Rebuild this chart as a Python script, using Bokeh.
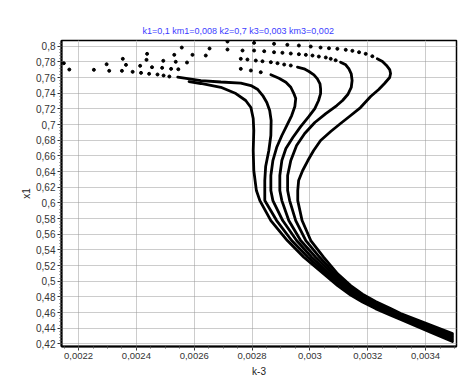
from bokeh.plotting import figure
from bokeh.models import FixedTicker, Range1d
from bokeh.embed import file_html
from bokeh.resources import INLINE
import numpy as np

title_text = "k1=0,1 km1=0,008 k2=0,7 k3=0,003 km3=0,002"

x_ticks = [0.0022, 0.0024, 0.0026, 0.0028, 0.003, 0.0032, 0.0034]
x_labels = ["0,0022", "0,0024", "0,0026", "0,0028", "0,003", "0,0032", "0,0034"]
y_ticks = [0.42, 0.44, 0.46, 0.48, 0.5, 0.52, 0.54, 0.56, 0.58, 0.6,
           0.62, 0.64, 0.66, 0.68, 0.7, 0.72, 0.74, 0.76, 0.78, 0.8]
y_labels = ["0,42", "0,44", "0,46", "0,48", "0,5", "0,52", "0,54", "0,56", "0,58", "0,6",
            "0,62", "0,64", "0,66", "0,68", "0,7", "0,72", "0,74", "0,76", "0,78", "0,8"]

# --- dense parts of the six curves (k-3, x1) ---
k3_c1 = [0.002582, 0.002623, 0.002692, 0.002744, 0.002778, 0.002796, 0.002804, 0.002806, 0.002804,
         0.002806, 0.002815, 0.002827, 0.002865, 0.002922, 0.002979, 0.003048, 0.003096, 0.003141,
         0.003182, 0.003227, 0.003279, 0.003314, 0.003417, 0.003493]
x1_c1 = [0.7549, 0.7524, 0.7476, 0.7396, 0.7307, 0.7217, 0.7077, 0.6923, 0.6668,
         0.6413, 0.6157, 0.6029, 0.5774, 0.5519, 0.5305, 0.5093, 0.4944, 0.4823,
         0.4733, 0.4650, 0.4567, 0.4510, 0.4350, 0.4229]

k3_c2 = [0.002543, 0.002623, 0.002692, 0.002761, 0.002796, 0.002820, 0.002837, 0.002851, 0.002861,
         0.002866, 0.002865, 0.002858, 0.002847, 0.002844, 0.002844, 0.002885, 0.002937, 0.002993,
         0.003058, 0.003141, 0.003182, 0.003227, 0.003279, 0.003314, 0.003417, 0.003493]
x1_c2 = [0.7604, 0.7562, 0.7543, 0.7530, 0.7498, 0.7447, 0.7370, 0.7281, 0.7179,
         0.7051, 0.6860, 0.6668, 0.6464, 0.6285, 0.6029, 0.5774, 0.5519, 0.5305,
         0.5093, 0.4847, 0.4754, 0.4668, 0.4584, 0.4525, 0.4369, 0.4249]

k3_c3 = [0.002865, 0.002893, 0.002917, 0.002934, 0.002945, 0.002951, 0.002948, 0.002937, 0.002920,
         0.002903, 0.002885, 0.002872, 0.002865, 0.002865, 0.002872, 0.002906, 0.002954, 0.003006,
         0.003068, 0.003141, 0.003182, 0.003227, 0.003279, 0.003314, 0.003417, 0.003493]
x1_c3 = [0.7635, 0.7591, 0.7540, 0.7476, 0.7392, 0.7332, 0.7230, 0.7115, 0.6987,
         0.6860, 0.6706, 0.6540, 0.6349, 0.6157, 0.6029, 0.5774, 0.5519, 0.5305,
         0.5093, 0.4871, 0.4774, 0.4686, 0.4600, 0.4540, 0.4386, 0.4270]

k3_c4 = [0.002957, 0.002980, 0.002997, 0.003014, 0.003026, 0.003035, 0.003037, 0.003037, 0.003030,
         0.003017, 0.002996, 0.002968, 0.002941, 0.002917, 0.002903, 0.002896, 0.002896, 0.002903,
         0.002927, 0.002968, 0.003020, 0.003079, 0.003141, 0.003182, 0.003227, 0.003279, 0.003314,
         0.003417, 0.003493]
x1_c4 = [0.7732, 0.7711, 0.7677, 0.7635, 0.7584, 0.7520, 0.7456, 0.7396, 0.7307,
         0.7204, 0.7102, 0.6974, 0.6834, 0.6694, 0.6540, 0.6349, 0.6157, 0.6029,
         0.5774, 0.5519, 0.5305, 0.5093, 0.4895, 0.4794, 0.4704, 0.4617, 0.4556,
         0.4404, 0.4290]

k3_c5 = [0.003106, 0.003124, 0.003135, 0.003143, 0.003146, 0.003143, 0.003131, 0.003113, 0.003093,
         0.003055, 0.003017, 0.002982, 0.002954, 0.002934, 0.002923, 0.002923, 0.002930, 0.002951,
         0.002986, 0.003034, 0.003087, 0.003141, 0.003182, 0.003227, 0.003279, 0.003314, 0.003417,
         0.003493]
x1_c5 = [0.7796, 0.7762, 0.7711, 0.7648, 0.7562, 0.7473, 0.7383, 0.7307, 0.7243,
         0.7140, 0.7026, 0.6885, 0.6732, 0.6540, 0.6349, 0.6157, 0.6029, 0.5774,
         0.5519, 0.5305, 0.5093, 0.4920, 0.4815, 0.4722, 0.4634, 0.4571, 0.4422,
         0.4311]

k3_c6 = [0.003233, 0.003251, 0.003265, 0.003276, 0.003279, 0.003276, 0.003258, 0.003238, 0.003210,
         0.003175, 0.003141, 0.003106, 0.003072, 0.003037, 0.003013, 0.002993, 0.002975, 0.002961,
         0.002958, 0.002958, 0.002973, 0.003003, 0.003048, 0.003096, 0.003141, 0.003182, 0.003227,
         0.003279, 0.003314, 0.003417, 0.003493]
x1_c6 = [0.7839, 0.7805, 0.7754, 0.7702, 0.7651, 0.7600, 0.7524, 0.7447, 0.7358,
         0.7217, 0.7115, 0.7013, 0.6911, 0.6796, 0.6668, 0.6540, 0.6413, 0.6285,
         0.6157, 0.6029, 0.5774, 0.5519, 0.5305, 0.5093, 0.4944, 0.4835, 0.4740,
         0.4650, 0.4586, 0.4439, 0.4331]

# --- sparse computed points on the upper branches ---
k3_d2 = [0.002387, 0.002416, 0.002444, 0.002473, 0.002494, 0.002514]
x1_d2 = [0.7673, 0.7660, 0.7648, 0.7639, 0.7626, 0.7613]
k3_d3 = [0.002168, 0.002253, 0.002306, 0.002350, 0.002454, 0.002489, 0.002520, 0.002545,
         0.002761, 0.002796, 0.002830]
x1_d3 = [0.7702, 0.7699, 0.7686, 0.7686, 0.7732, 0.7724, 0.7711, 0.7706,
         0.7711, 0.7690, 0.7668]
k3_d4 = [0.002149, 0.002297, 0.002364, 0.002413, 0.002435, 0.002493, 0.002536, 0.002575,
         0.002761, 0.002784, 0.002813, 0.002836, 0.002865, 0.002888, 0.002911, 0.002934]
x1_d4 = [0.7783, 0.7770, 0.7762, 0.7750, 0.7826, 0.7814, 0.7801, 0.7792,
         0.7839, 0.7830, 0.7817, 0.7808, 0.7796, 0.7783, 0.7766, 0.7754]
k3_d5 = [0.002353, 0.002437, 0.002531, 0.002594, 0.002640, 0.002715, 0.002767,
         0.002807, 0.002842, 0.002876, 0.002905, 0.002934, 0.002962, 0.002986, 0.003009,
         0.003031, 0.003055, 0.003072, 0.003089]
x1_d5 = [0.7839, 0.7903, 0.7890, 0.7890, 0.7881, 0.7958, 0.7945,
         0.7945, 0.7936, 0.7923, 0.7916, 0.7907, 0.7898, 0.7890, 0.7881,
         0.7868, 0.7856, 0.7839, 0.7821]
k3_d6 = [0.002557, 0.002653, 0.002715, 0.002807, 0.002876, 0.002922, 0.002962, 0.003003,
         0.003037, 0.003066, 0.003095, 0.003124, 0.003147, 0.003170, 0.003193, 0.003216]
x1_d6 = [0.7983, 0.7971, 0.8060, 0.8043, 0.8031, 0.8018, 0.8009, 0.7996,
         0.7983, 0.7974, 0.7967, 0.7954, 0.7941, 0.7923, 0.7903, 0.7872]

FONT = "Liberation Sans"

p = figure(width=460, height=383, output_backend="svg", toolbar_location=None,
           x_range=Range1d(0.002141, 0.003507), y_range=Range1d(0.4166, 0.8073),
           min_border_left=61, min_border_right=4, min_border_top=40, min_border_bottom=37)

p.title.text = title_text
p.title.text_color = "#3c3cff"
p.title.text_font = FONT
p.title.text_font_size = "9px"
p.title.text_font_style = "normal"
p.title.align = "left"
p.title.offset = 81
p.title.standoff = 9

paths = [(k3_c1, x1_c1), (k3_c2, x1_c2), (k3_c3, x1_c3), (k3_c4, x1_c4), (k3_c5, x1_c5), (k3_c6, x1_c6)]
for kk, xx in paths:
    p.line(kk, xx, line_color="black", line_width=2.8, line_join="round", line_cap="round")

dots = [(k3_d2, x1_d2), (k3_d3, x1_d3), (k3_d4, x1_d4), (k3_d5, x1_d5), (k3_d6, x1_d6)]
for kk, xx in dots:
    p.scatter(kk, xx, marker="circle", size=3, color="black")

x_minor = list(np.round(np.arange(0.0021, 0.00355, 0.00005), 6))
y_minor = list(np.round(np.arange(0.416, 0.81, 0.004), 4))
p.xaxis.ticker = FixedTicker(ticks=x_ticks, minor_ticks=x_minor)
p.yaxis.ticker = FixedTicker(ticks=y_ticks, minor_ticks=y_minor)
p.xaxis.major_label_overrides = dict(zip(x_ticks, x_labels))
p.yaxis.major_label_overrides = dict(zip(y_ticks, y_labels))

for ax in (p.xaxis[0], p.yaxis[0]):
    ax.axis_line_color = "black"
    ax.axis_line_width = 2
    ax.major_tick_out = 4
    ax.major_tick_in = 0
    ax.minor_tick_out = 2
    ax.minor_tick_in = 0
    ax.major_tick_line_color = "#333333"
    ax.minor_tick_line_color = "#555555"
    ax.major_label_text_font = FONT
    ax.major_label_text_color = "#333333"
    ax.axis_label_text_font = FONT
    ax.axis_label_text_font_size = "10px"
    ax.axis_label_text_font_style = "normal"
    ax.axis_label_text_color = "#222222"
    ax.major_label_standoff = 2

p.xaxis.major_label_text_font_size = "9.5px"
p.yaxis.major_label_text_font_size = "10px"
p.xaxis.axis_label = "k-3"
p.yaxis.axis_label = "x1"
p.xaxis.axis_label_standoff = 4
p.yaxis.axis_label_standoff = 1

p.xgrid.grid_line_color = "#cccccc"
p.xgrid.grid_line_width = 1
p.ygrid.grid_line_color = "#999999"
p.ygrid.grid_line_dash = "1 1"
p.ygrid.grid_line_width = 1

p.outline_line_color = "black"
p.outline_line_width = 1.5
p.background_fill_color = "white"
p.border_fill_color = "white"

open("out.html", "w").write(file_html(p, INLINE))
